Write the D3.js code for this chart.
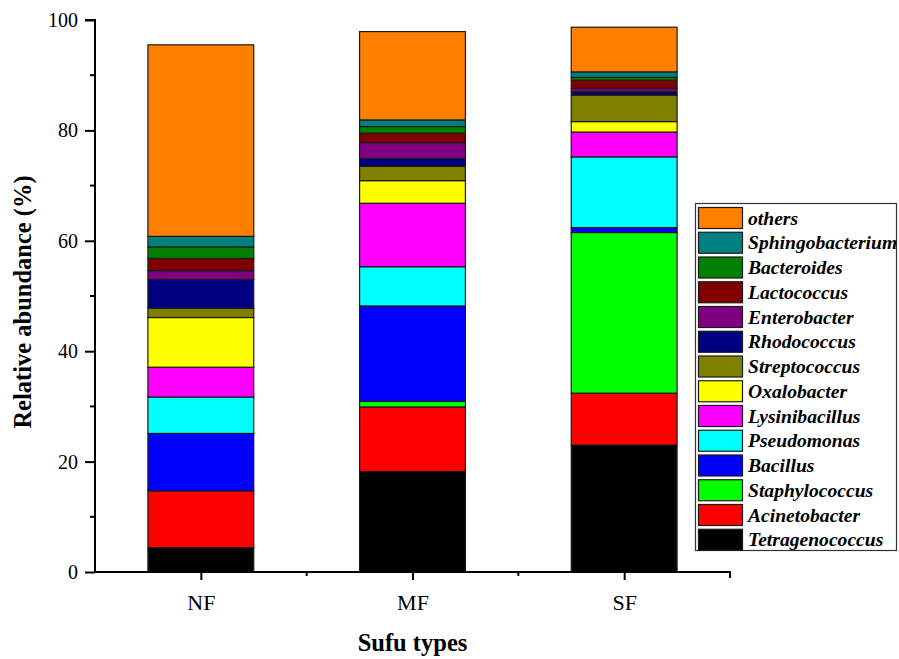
<!DOCTYPE html>
<html><head><meta charset="utf-8">
<script src="https://cdn.jsdelivr.net/npm/d3@7"></script>
<style>body{margin:0;background:#fff}svg{display:block}
text{font-family:"Liberation Serif","Times New Roman",Times,"Nimbus Roman","DejaVu Serif",serif;}</style>
</head><body>
<svg id="c" width="899" height="659"></svg>
<script>
const categories = ["NF", "MF", "SF"];
const genera = ["Tetragenococcus","Acinetobacter","Staphylococcus","Bacillus","Pseudomonas","Lysinibacillus","Oxalobacter","Streptococcus","Rhodococcus","Enterobacter","Lactococcus","Bacteroides","Sphingobacterium","others"];
const valuesNF = [4.4, 10.3, 0.0, 10.4, 6.6, 5.4, 9.0, 1.7, 5.2, 1.6, 2.2, 2.1, 1.9, 34.7];
const valuesMF = [18.2, 11.7, 1.0, 17.3, 7.1, 11.5, 4.1, 2.6, 1.4, 2.9, 1.7, 1.2, 1.2, 16.0];
const valuesSF = [23.0, 9.4, 29.1, 0.9, 12.8, 4.5, 1.9, 4.8, 0.6, 0.6, 1.5, 0.5, 1.0, 8.1];
const colors = ["#000000","#FF0000","#00FF00","#0000FF","#00FFFF","#FF00FF","#FFFF00","#808000","#000080","#800080","#800000","#008000","#008080","#FF8000"];
const yTicks = [0, 20, 40, 60, 80, 100];
const yMinor = [10, 30, 50, 70, 90];

const svg = d3.select("#c");
const L = 95, R = 730, T = 20, B = 572;

const rows = categories.map((c, i) => {
  const vals = [valuesNF, valuesMF, valuesSF][i];
  const o = {cat: c};
  genera.forEach((g, j) => o[g] = vals[j]);
  return o;
});
const stack = d3.stack().keys(genera)(rows);

const x = d3.scaleBand().domain(categories).range([L, R]).paddingInner(0).paddingOuter(0);
const y = d3.scaleLinear().domain([0, 100]).range([B, T]);
const color = d3.scaleOrdinal().domain(genera).range(colors);
const bw = x.step() * 0.5;

const g = svg.append("g");
stack.forEach(s => {
  g.selectAll(null).data(s.filter(d => d[1] - d[0] > 0)).enter().append("rect")
    .attr("x", d => x(d.data.cat) + x.bandwidth() / 2 - bw / 2)
    .attr("width", bw)
    .attr("y", d => y(d[1]))
    .attr("height", d => y(d[0]) - y(d[1]))
    .attr("fill", color(s.key))
    .attr("stroke", "#1a1a1a")
    .attr("stroke-width", 1.2);
});

const ya = svg.append("g").attr("transform", `translate(${L},0)`)
  .call(d3.axisLeft(y).tickValues(yTicks).tickSize(10).tickPadding(7).tickFormat(d3.format("d")));
ya.attr("font-family", null);
ya.select(".domain").attr("d", `M-10,${y(100)}H0V${B}`).attr("stroke", "#000").attr("stroke-width", 2);
ya.selectAll(".tick line").attr("stroke-width", 2);
ya.selectAll(".tick text").attr("font-size", 20).attr("fill", "#000");
ya.selectAll(null).data(yMinor).enter().append("line")
  .attr("x1", -5).attr("x2", 0).attr("y1", d => y(d)).attr("y2", d => y(d))
  .attr("stroke", "#000").attr("stroke-width", 2);

const xc = d3.scalePoint().domain(categories).range([L, R]).padding(0.5);
const xa = svg.append("g").attr("transform", `translate(0,${B})`)
  .call(d3.axisBottom(xc).tickSize(8).tickPadding(14));
xa.attr("font-family", null);
xa.select(".domain").attr("d", `M${L},0H${R}V6`).attr("stroke", "#000").attr("stroke-width", 2);
xa.selectAll(".tick line").attr("stroke-width", 2);
xa.selectAll(".tick text").attr("font-size", 22).attr("fill", "#000");
const bounds = categories.slice(1).map(c => x(c));
xa.selectAll(null).data(bounds).enter().append("line")
  .attr("x1", d => d).attr("x2", d => d).attr("y1", 0).attr("y2", 4)
  .attr("stroke", "#000").attr("stroke-width", 2);

svg.append("text").attr("x", (L + R) / 2).attr("y", 651).attr("text-anchor", "middle")
  .attr("font-weight", "bold").attr("font-size", 24.5).text("Sufu types");
svg.append("text").attr("transform", `translate(31,${(T + B) / 2 + 6}) rotate(-90)`)
  .attr("text-anchor", "middle").attr("font-weight", "bold")
  .attr("font-size", 24.5).text("Relative abundance (%)");

const lg = svg.append("g");
lg.append("rect").attr("x", 695.5).attr("y", 203.5).attr("width", 201).attr("height", 347)
  .attr("fill", "#fff").attr("stroke", "#333").attr("stroke-width", 1.2);
const legendOrder = genera.slice().reverse();
legendOrder.forEach((name, i) => {
  const ty = 207.5 + i * 24.75;
  lg.append("rect").attr("x", 698.5).attr("y", ty).attr("width", 44).attr("height", 21)
    .attr("fill", color(name)).attr("stroke", "#1a1a1a").attr("stroke-width", 1.2);
  lg.append("text").attr("x", 748).attr("y", ty + 17)
    .attr("font-weight", "bold").attr("font-style", "italic").attr("font-size", 19.6).text(name);
});
</script>
</body></html>
